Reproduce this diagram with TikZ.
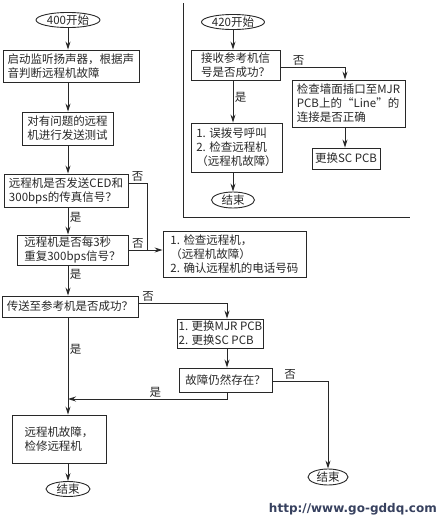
\documentclass[tikz,border=0pt]{standalone}
\usepackage{fontspec}
\setmainfont{Noto Sans CJK SC}
\newfontfamily\urlfont{DejaVu Sans}
\usetikzlibrary{arrows.meta,shapes.geometric}
\definecolor{ink}{RGB}{40,40,40}
\definecolor{urlc}{RGB}{55,65,95}
\newcommand{\fs}{\fontsize{11.5}{14}\selectfont}
\tikzset{
  box/.style={draw=ink, text=ink, line width=0.9pt, inner sep=1pt, align=left, font=\fs},
  term/.style={draw=ink, text=ink, ellipse, line width=0.9pt, inner sep=0pt, font=\fs},
  arr/.style={draw=ink, line width=0.9pt, -{Stealth[length=8pt,width=5pt]}},
  ln/.style={draw=ink, line width=0.9pt},
  lbl/.style={text=ink, font=\fs, inner sep=1.5pt}
}
\begin{document}
\begin{tikzpicture}[x=1pt,y=-1pt]
\useasboundingbox[fill=white] (0,0) rectangle (445,523);
% left column
\node[term, minimum width=64pt, minimum height=15pt] (s400) at (68,20) {400开始};
\node[box, minimum width=136pt, minimum height=32pt] (b1) at (71,66) {启动监听扬声器，根据声\\音判断远程机故障};
\node[box, minimum width=91pt, minimum height=33pt] (b2) at (67.5,128.5) {对有问题的远程\\机进行发送测试};
\node[box, minimum width=124pt, minimum height=33pt] (b3) at (66,190.5) {远程机是否发送CED和\\300bps的传真信号？};
\node[box, minimum width=111pt, minimum height=30pt] (b4) at (72.5,250) {远程机是否每3秒\\重复300bps信号？};
\node[box, minimum width=143pt, minimum height=46pt] (b5) at (234.5,254) {1. 检查远程机，\\（远程机故障）\\2. 确认远程机的电话号码};
\node[box, minimum width=136pt, minimum height=21pt] (b6) at (70,306.5) {传送至参考机是否成功？};
\node[box, minimum width=85pt, minimum height=29pt] (b7) at (220.5,333.5) {1. 更换MJR PCB\\2. 更换SC PCB};
\node[box, minimum width=93pt, minimum height=24pt] (b8) at (225.5,380) {故障仍然存在？};
\node[box, minimum width=94pt, minimum height=48pt] (b9) at (59,439) {远程机故障，\\检修远程机};
\node[term, minimum width=44pt, minimum height=15pt] (e1) at (68,489) {结束};
\node[term, minimum width=40pt, minimum height=16pt] (e2) at (328,477) {结束};
% right panel
\node[term, minimum width=63pt, minimum height=15pt] (s420) at (233,22) {420开始};
\node[box, minimum width=89pt, minimum height=30pt] (r1) at (235.5,65) {接收参考机信\\号是否成功？};
\node[box, minimum width=113pt, minimum height=47pt] (r2) at (348.5,103.5) {检查墙面插口至MJR\\PCB上的“Line”的\\连接是否正确};
\node[box, minimum width=68pt, minimum height=21pt] (r3) at (346,158.5) {更换SC PCB};
\node[box, minimum width=91pt, minimum height=49pt] (r4) at (236.5,147.5) {1. 误拨号呼叫\\2. 检查远程机\\（远程机故障）};
\node[term, minimum width=43pt, minimum height=16pt] (er) at (233,200) {结束};
% bend coordinates
\coordinate (k1) at (147,183);
\coordinate (k2) at (227,303);
\coordinate (k3) at (227,399);
\coordinate (k4) at (328,381);
\coordinate (k5) at (345,67);
\coordinate (f1) at (183,3);
\coordinate (f2) at (183,217);
\coordinate (f3) at (410,217);
% left connectors
\draw[arr] (s400) -- (s400 |- b1.north);
\draw[arr] (b1.south -| s400) -- (b2.north -| s400);
\draw[arr] (b2.south -| s400) -- (b3.north -| s400);
\draw[arr] (b3.south -| s400) -- node[lbl, right, pos=0.35]{是} (b4.north -| s400);
\draw[arr] (b4.south -| s400) -- node[lbl, right, pos=0.3]{是} (b6.north -| s400);
\draw[arr] (b6.south -| s400) -- node[lbl, right, pos=0.33]{是} (b9.north -| s400);
\draw[arr] (b9.south -| s400) -- (e1);
\draw[ln] (k1 -| b3.east) -- node[lbl, above]{否} (k1) -- (k1 |- b4.east);
\draw[arr] (b4.east) -- node[lbl, above, pos=0.28]{否} (b5.west |- b4.east);
\draw[arr] (k2 -| b6.east) -- node[lbl, above, pos=0.11]{否} (k2) -- (k2 |- b7.north);
\draw[arr] (b7.south -| k2) -- (b8.north -| k2);
\draw[arr] (b8.south -| k3) -- (k3) -- node[lbl, above, pos=0.45]{是} (k3 -| s400);
\draw[arr] (k4 -| b8.east) -- node[lbl, above, pos=0.32]{否} (k4) -- (e2);
% right connectors
\draw[ln] (f1) -- (f2) -- (f3);
\draw[arr] (s420) -- (s420 |- r1.north);
\draw[arr] (k5 -| r1.east) -- node[lbl, above, pos=0.28]{否} (k5) -- (k5 |- r2.north);
\draw[arr] (r2.south -| k5) -- (r3.north -| k5);
\draw[arr] (r1.south -| s420) -- node[lbl, right, pos=0.4]{是} (r4.north -| s420);
\draw[arr] (r4.south -| s420) -- (er);
% url
\node[font=\urlfont\bfseries\fontsize{12}{14}\selectfont, text=urlc, anchor=east, inner sep=0pt] (url) at (437,509) {http://www.go-gddq.com};
\end{tikzpicture}
\end{document}
